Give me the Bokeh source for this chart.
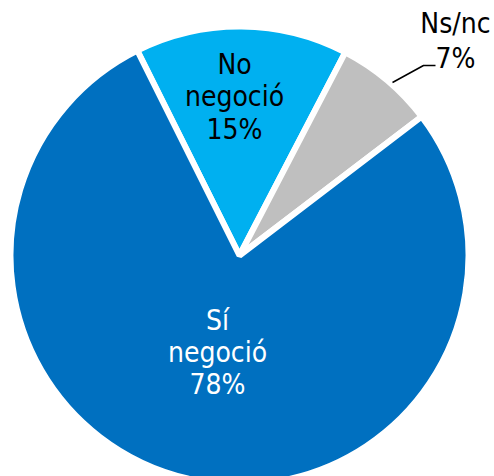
import numpy as np
from bokeh.plotting import figure
from bokeh.models import ColumnDataSource
from bokeh.core.properties import value
from bokeh.embed import file_html
from bokeh.resources import INLINE

labels = ["No\nnegoció", "Ns/nc", "Sí\nnegoció"]
values = [15, 7, 78]
colors = ["#00B0F0", "#BFBFBF", "#0070C0"]
text_colors = ["#000000", "#000000", "#FFFFFF"]

W, H = 494, 476
cx, cy, r = 239, 221, 229
start_deg = 116.5

# clockwise from start_deg
fr = np.array(values, dtype=float) / sum(values)
cum = np.concatenate([[0], np.cumsum(fr)]) * 360.0
a_hi = start_deg - cum[:-1]
a_lo = start_deg - cum[1:]

src = ColumnDataSource(dict(
    x=[cx] * 3, y=[cy] * 3,
    start=np.radians(a_lo), end=np.radians(a_hi),
    color=colors,
))

p = figure(width=W, height=H, x_range=(0, W), y_range=(0, H),
           output_backend="svg", toolbar_location=None, min_border=0)
p.axis.visible = False
p.grid.visible = False
p.outline_line_color = None
p.background_fill_color = "white"
p.border_fill_color = "white"

p.wedge(x="x", y="y", radius=r, start_angle="start", end_angle="end",
        fill_color="color", line_color="white", line_width=6, source=src)

# label placement (centres) and line spacing
lab_x = [234, 455, 217]
lab_y = [380, 436, 124]
spacing = [32.5, 35, 32]

xs, ys, ts, cs = [], [], [], []
for l, v, x0, y0, sp, c in zip(labels, values, lab_x, lab_y, spacing, text_colors):
    lines = l.split("\n") + [f"{v}%"]
    n = len(lines)
    for i, t in enumerate(lines):
        xs.append(x0)
        ys.append(y0 + (n - 1) / 2 * sp - i * sp)
        ts.append(t)
        cs.append(c)

p.text(x=xs, y=ys, text=ts, text_color=cs,
       text_font=value("DejaVu Sans Condensed"), text_font_size="28px",
       text_align="center", text_baseline="middle")

# leader line for Ns/nc
p.line(x=[392, 423, 435], y=[394, 411, 411], line_color="black", line_width=1.5)

open("out.html", "w").write(file_html(p, INLINE))
